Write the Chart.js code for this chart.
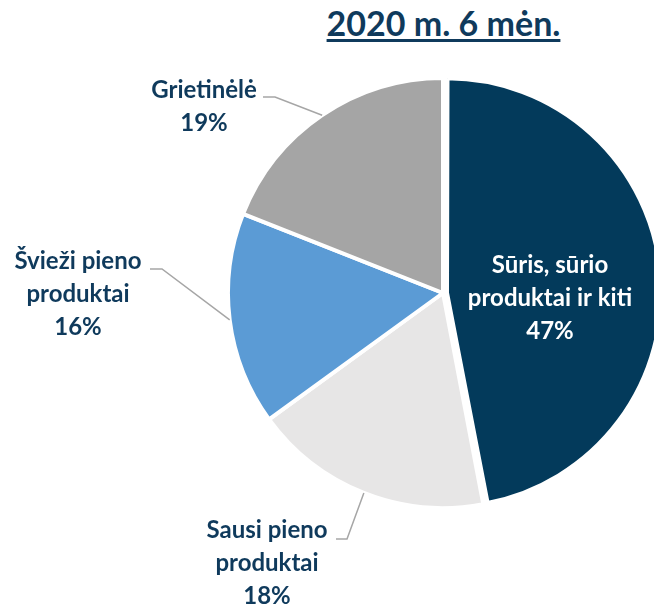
<!DOCTYPE html>
<html lang="lt">
<head>
  <meta charset="UTF-8">
  <title>2020 m. 6 mėn.</title>
  <script src="https://cdn.jsdelivr.net/npm/chart.js"></script>
  <style>
    body {
      margin: 0;
      overflow: hidden;
      background: #fff;
      font-family: 'Lato', sans-serif;
    }
    .wrap {
      position: relative;
      width: 654px;
      height: 604px;
    }
    #title {
      position: absolute;
      left: 0;
      top: 3px;
      width: 887px;
      text-align: center;
      font: bold 34px 'Lato', sans-serif;
      line-height: 40px;
      color: #0f3a5c;
      text-decoration: underline;
      text-decoration-thickness: 3px;
      text-underline-offset: 3px;
    }
    canvas {
      position: absolute;
      left: 0;
      top: 0;
    }
  </style>
</head>
<body>
  <div class="wrap">
    <div id="title">2020 m. 6 mėn.</div>
    <canvas id="pie" width="654" height="604"></canvas>
  </div>

  <script>
    // duomenys
    const categories = ['Sūris, sūrio produktai ir kiti', 'Sausi pieno produktai', 'Švieži pieno produktai', 'Grietinėlė'];
    const shares = [47, 18, 16, 19];
    const labelLines = [
      ['Sūris, sūrio', 'produktai ir kiti'],
      ['Sausi pieno', 'produktai'],
      ['Švieži pieno', 'produktai'],
      ['Grietinėlė']
    ];

    const colors = ['#033a5b', '#e7e6e6', '#5b9bd5', '#a5a5a5'];

    // užrašų vieta nuo pyrago centro: tekstas (tx, ty = pirmos eilutės bazinė linija), linijos lūžis (ex, ey), linijos galas (lx)
    const labelPlace = [
      { tx: 107, ty: -20, inside: true },
      { tx: -176, ty: 245, ex: -96, ey: 246, lx: -107 },
      { tx: -365, ty: -24, ex: -281, ey: -24, lx: -293 },
      { tx: -239, ty: -195, ex: -168, ey: -196, lx: -180 }
    ];

    const lineGap = 33;

    const shrinkFirst = {
      id: 'shrinkFirst',
      afterDatasetUpdate(chart, args) {
        const arc = args.meta.data[0];
        arc.outerRadius = arc.outerRadius - 4;
      }
    };

    const pieLabels = {
      id: 'pieLabels',
      afterDraw(chart) {
        const ctx = chart.ctx;
        const arcs = chart.getDatasetMeta(0).data;
        ctx.save();
        ctx.font = 'bold 24px Lato, sans-serif';
        ctx.textAlign = 'center';
        ctx.textBaseline = 'alphabetic';
        arcs.forEach((arc, i) => {
          const p = labelPlace[i];
          const cx = arc.x, cy = arc.y;
          const lines = labelLines[i].concat([shares[i] + '%']);
          if (!p.inside) {
            const mid = (arc.startAngle + arc.endAngle) / 2;
            const r = arc.outerRadius;
            ctx.strokeStyle = '#a6a6a6';
            ctx.lineWidth = 1.5;
            ctx.beginPath();
            ctx.moveTo(cx + Math.cos(mid) * r, cy + Math.sin(mid) * r);
            ctx.lineTo(cx + p.ex, cy + p.ey);
            ctx.lineTo(cx + p.lx, cy + p.ey);
            ctx.stroke();
          }
          ctx.fillStyle = p.inside ? '#ffffff' : '#0f3a5c';
          lines.forEach((t, k) => {
            ctx.fillText(t, cx + p.tx, cy + p.ty + k * lineGap);
          });
        });
        ctx.restore();
      }
    };

    new Chart(document.getElementById('pie'), {
      type: 'pie',
      data: {
        labels: categories,
        datasets: [{
          data: shares,
          backgroundColor: colors,
          borderColor: '#ffffff',
          borderWidth: 4,
          offset: [16, 0, 0, 0]
        }]
      },
      options: {
        responsive: false,
        animation: false,
        events: [],
        radius: 215,
        layout: { padding: { left: 232, right: 0, top: 0, bottom: 18 } },
        plugins: {
          legend: { display: false },
          tooltip: { enabled: false },
          title: { display: false }
        }
      },
      plugins: [shrinkFirst, pieLabels]
    });
  </script>
</body>
</html>
